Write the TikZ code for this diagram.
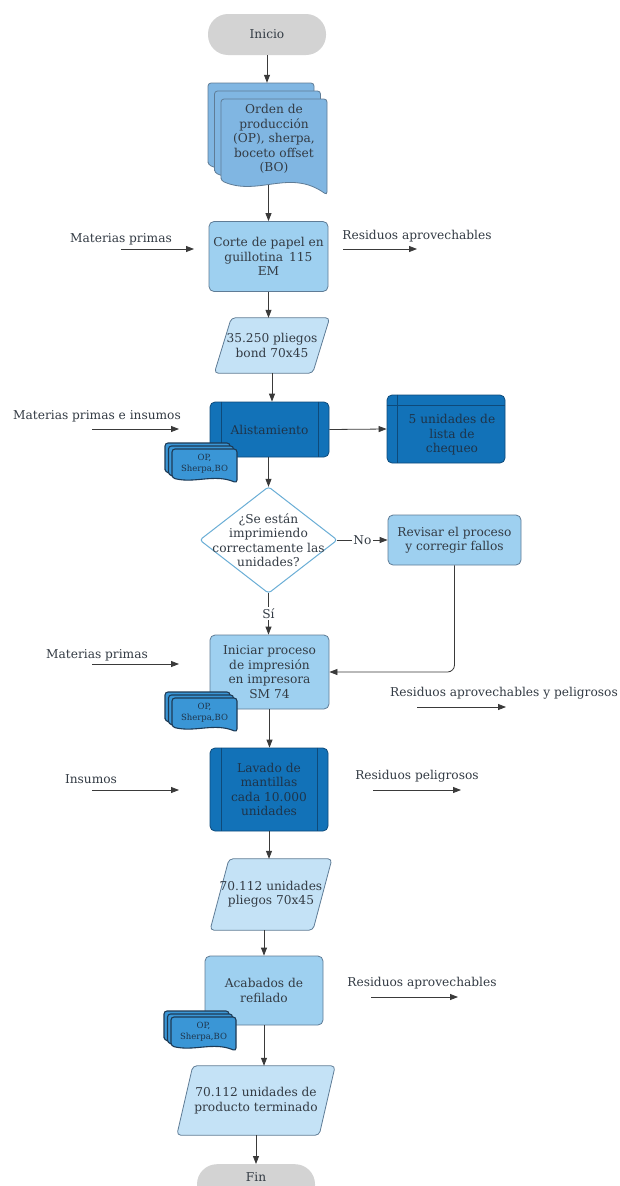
\documentclass[tikz,border=0pt]{standalone}
\usepackage{fontspec}
\setmainfont{DejaVu Serif}
\usetikzlibrary{arrows.meta,calc,backgrounds}

\definecolor{termgray}{HTML}{D3D3D3}
\definecolor{procblue}{HTML}{9ED0F0}
\definecolor{ioblue}{HTML}{C4E2F6}
\definecolor{darkblue}{HTML}{1272B8}
\definecolor{darkedge}{HTML}{0E4A7A}
\definecolor{docblue}{HTML}{80B6E2}
\definecolor{smallblue}{HTML}{3A96D6}
\definecolor{docedge}{HTML}{1D3A55}
\definecolor{edgegray}{HTML}{5F7C96}
\definecolor{diaedge}{HTML}{6AAED6}
\definecolor{ink}{HTML}{333B44}
\definecolor{darkink}{HTML}{1E344A}
\definecolor{lineclr}{HTML}{3A3A3A}

% bars of a predefined-process box
\newcommand\predeflines[1]{%
  \draw[predefline] ([xshift=11.5pt]#1.north west) -- ([xshift=11.5pt]#1.south west)
                    ([xshift=-11.5pt]#1.north east) -- ([xshift=-11.5pt]#1.south east);}
% slanted data frame around a text node (#2 = half the slant)
\newcommand\ioframe[2]{%
  \draw[ioshape] ($(#1.south west)+(-#2,0)$) -- ($(#1.north west)+(#2,0)$)
     -- ($(#1.north east)+(#2,0)$) -- ($(#1.south east)+(-#2,0)$) -- cycle;}
% one sheet with a wavy lower edge: x y w h style
\newcommand\docsheet[5]{%
  \draw[#5,rounded corners=3pt] (#1,#2+0.85*#4) -- (#1,#2) -- (#1+#3,#2) -- (#1+#3,#2+#4)
     .. controls (#1+0.65*#3,#2+0.72*#4) and (#1+0.35*#3,#2+1.02*#4) .. (#1,#2+0.85*#4) -- cycle;}
% three stacked sheets: x y w h dx dy style
\newcommand\docstack[7]{%
  \docsheet{#1}{#2}{#3}{#4}{#7}%
  \docsheet{#1+#5}{#2+#6}{#3}{#4}{#7}%
  \docsheet{#1+2*#5}{#2+2*#6}{#3}{#4}{#7}}

\begin{document}
\begin{tikzpicture}[x=1pt,y=-1pt,
  font=\fontsize{12.2}{14.4}\selectfont,
  every node/.style={text=ink},
  arr/.style={draw=lineclr,line width=0.8pt,-{Triangle[length=8pt,width=6pt]}},
  terminal/.style={fill=termgray,rounded corners=20pt,minimum width=118pt,minimum height=41pt,inner sep=0pt},
  proc/.style={draw=edgegray,line width=0.8pt,fill=procblue,rounded corners=5pt,inner sep=0pt,align=center},
  predef/.style={draw=darkedge,line width=0.8pt,fill=darkblue,rounded corners=5pt,inner sep=0pt,align=center,text=darkink},
  predefline/.style={draw=darkedge,line width=0.8pt},
  iobody/.style={inner sep=0pt,align=center},
  ioshape/.style={draw=edgegray,line width=0.8pt,fill=ioblue,rounded corners=4pt},
  decbody/.style={inner sep=0pt,align=center},
  decshape/.style={draw=diaedge,line width=1pt,fill=white,rounded corners=3pt},
  bigdoc/.style={draw=edgegray,line width=0.8pt,fill=docblue},
  smalldoc/.style={draw=docedge,line width=1.1pt,fill=smallblue},
  doctext/.style={align=center},
  smalltext/.style={align=center,inner sep=0pt,font=\fontsize{8.5}{11}\selectfont,text=darkink},
  side/.style={inner sep=0pt},
  answer/.style={fill=white,inner sep=1.5pt}
]
\useasboundingbox (0,0) rectangle (619,1186);

% ---- main column
\node[terminal] (inicio) at (267,34.5) {Inicio};

\docstack{208}{83}{106}{96}{6.5}{8}{bigdoc}
\node[inner sep=0pt,minimum width=119pt,minimum height=102pt] (ordenstack) at (267.5,134) {};
\node[doctext] (orden) at (274,139) {Orden de\\producción\\(OP), sherpa,\\boceto offset\\(BO)};

\node[proc,minimum width=119pt,minimum height=70pt] (corte) at (268.5,256.5) {Corte de papel en\\guillotina\enspace 115\\EM};

\node[iobody,minimum width=98pt,minimum height=55pt] (p1) at (272,345.5) {35.250 pliegos\\bond 70x45};

\node[predef,minimum width=119pt,minimum height=55pt] (alist) at (269.5,429.5) {Alistamiento};
\predeflines{alist}

\node[predef,minimum width=118pt,minimum height=68pt] (chk) at (446,429) {};
\draw[predefline] ([xshift=11pt]chk.north west) -- ([xshift=11pt]chk.south west)
                  ([yshift=-11pt]chk.north west) -- ([yshift=-11pt]chk.north east);
\node[align=center,inner sep=0pt,text=darkink] (chktext) at (452,435) {5 unidades de\\lista de\\chequeo};

\node[decbody,minimum width=137pt,minimum height=106pt] (dec) at (268.5,540) {¿Se están\\imprimiendo\\correctamente las\\unidades?};

\node[proc,minimum width=133pt,minimum height=50pt] (rev) at (454.5,540) {Revisar el proceso\\y corregir fallos};

\node[proc,minimum width=119pt,minimum height=74pt] (ini) at (269.5,672) {Iniciar proceso\\de impresión\\en impresora\\SM 74};

\node[predef,minimum width=118pt,minimum height=83pt] (lav) at (269,789.5) {Lavado de\\mantillas\\cada 10.000\\unidades};
\predeflines{lav}

\node[iobody,minimum width=102pt,minimum height=71pt] (p2) at (271,894.5) {70.112 unidades\\pliegos 70x45};

\node[proc,minimum width=118pt,minimum height=69pt] (acab) at (264,990.5) {Acabados de\\refilado};

\node[iobody,minimum width=142pt,minimum height=69pt] (p3) at (256,1100.5) {70.112 unidades de\\producto terminado};

\node[terminal,anchor=north,text height=17pt,text depth=24pt] (fin) at (256,1164) {Fin};

% white page and the frames drawn behind their text
\begin{pgfonlayer}{background}
  \fill[white] (0,0) rectangle (619,1186);
  \ioframe{p1}{8.5}
  \ioframe{p2}{9.5}
  \ioframe{p3}{8}
  \draw[decshape] (dec.north) -- (dec.east) -- (dec.south) -- (dec.west) -- cycle;
\end{pgfonlayer}

% ---- document stacks beside the steps
\docstack{165}{443}{65}{34}{3.5}{3}{smalldoc}
\node[smalltext] (doc1) at (204.5,464) {OP,\\Sherpa,BO};
\docstack{165}{692}{65}{34}{3.5}{3}{smalldoc}
\node[smalltext] (doc2) at (204.5,713) {OP,\\Sherpa,BO};
\docstack{164}{1011}{65}{34}{3.5}{3}{smalldoc}
\node[smalltext] (doc3) at (203.5,1032) {OP,\\Sherpa,BO};

% ---- flow
\draw[arr] (inicio.south) -- (inicio.south |- ordenstack.north);
\draw[arr] (corte.north |- ordenstack.south) -- (corte.north);
\draw[arr] (corte.south) -- (corte.south |- p1.north);
\draw[arr] (p1.south) -- (p1.south |- alist.north);
\draw[arr] (alist.east) -- (chk.west);
\draw[arr] (dec.north |- alist.south) -- (dec.north);
\draw[arr] (dec.east) -- node[answer]{No} (rev.west);
\draw[arr] (dec.south) -- node[answer]{Sí} (dec.south |- ini.north);
\draw[arr,rounded corners=7pt] (rev.south) |- (ini.east);
\draw[arr] (ini.south) -- (ini.south |- lav.north);
\draw[arr] (lav.south) -- (lav.south |- p2.north);
\draw[arr] (acab.north |- p2.south) -- (acab.north);
\draw[arr] (acab.south) -- (acab.south |- p3.north);
\draw[arr] (p3.south) -- (fin.north);

% ---- inputs and outputs
\node[side] (mp1) at (121,239) {Materias primas};
\coordinate (mp1a) at (121,249); \coordinate (mp1b) at (194,249);
\draw[arr] (mp1a) -- (mp1b);

\node[side] (ra1) at (417,236) {Residuos aprovechables};
\coordinate (ra1a) at (343,249); \coordinate (ra1b) at (417,249);
\draw[arr] (ra1a) -- (ra1b);

\node[side] (mpi) at (97,416) {Materias primas e insumos};
\coordinate (mpia) at (92,429); \coordinate (mpib) at (179,429);
\draw[arr] (mpia) -- (mpib);

\node[side] (mp2) at (97,655) {Materias primas};
\coordinate (mp2a) at (92,664); \coordinate (mp2b) at (179,664);
\draw[arr] (mp2a) -- (mp2b);

\node[side] (rap) at (504,693) {Residuos aprovechables y peligrosos};
\coordinate (rapa) at (417,707); \coordinate (rapb) at (506,707);
\draw[arr] (rapa) -- (rapb);

\node[side] (ins) at (91,779) {Insumos};
\coordinate (insa) at (92,790); \coordinate (insb) at (179,790);
\draw[arr] (insa) -- (insb);

\node[side] (rp) at (417,776) {Residuos peligrosos};
\coordinate (rpa) at (373,790); \coordinate (rpb) at (461,790);
\draw[arr] (rpa) -- (rpb);

\node[side] (ra2) at (422,983) {Residuos aprovechables};
\coordinate (ra2a) at (371,997); \coordinate (ra2b) at (458,997);
\draw[arr] (ra2a) -- (ra2b);
\end{tikzpicture}
\end{document}
